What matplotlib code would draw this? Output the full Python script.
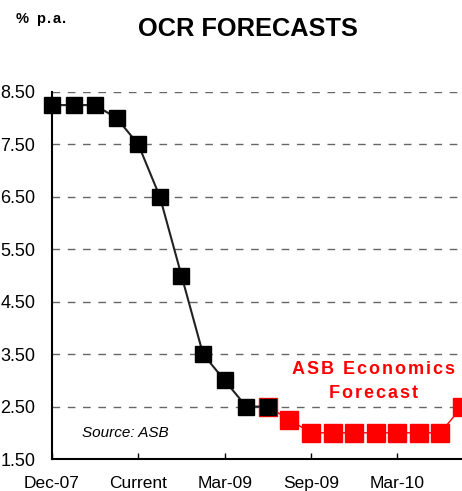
import matplotlib
matplotlib.use('Agg')
import matplotlib.pyplot as plt

plt.rcParams['font.family'] = ['Liberation Sans', 'DejaVu Sans']

# OCR history (black) and forecast path (red), one point per step
actual_x = [0, 1, 2, 3, 4, 5, 6, 7, 8, 9, 10]
actual_ocr = [8.25, 8.25, 8.25, 8.0, 7.5, 6.5, 5.0, 3.5, 3.0, 2.5, 2.5]
forecast_x = [10, 11, 12, 13, 14, 15, 16, 17, 18, 19]
forecast_ocr = [2.5, 2.25, 2.0, 2.0, 2.0, 2.0, 2.0, 2.0, 2.0, 2.5]

tick_pos = [0, 4, 8, 12, 16]
tick_labels = ['Dec-07', 'Current', 'Mar-09', 'Sep-09', 'Mar-10']
y_ticks = [1.5, 2.5, 3.5, 4.5, 5.5, 6.5, 7.5, 8.5]


def spaced_text(x, y, s, spacing, **kw):
    # draw a string char by char with extra tracking between letters
    fig.canvas.draw()
    r = fig.canvas.get_renderer()
    parts = []
    total = 0
    for ch in s:
        t = fig.text(0, 0, ch, **kw)
        w = t.get_window_extent(renderer=r).width
        t.remove()
        parts.append((ch, w))
        total += w
    total += spacing * (len(s) - 1)
    px = x * fig.bbox.width - total / 2
    for ch, w in parts:
        fig.text(px / fig.bbox.width, y, ch, ha='left', **kw)
        px += w + spacing


fig = plt.figure(figsize=(4.62, 4.91), dpi=100)
ax = fig.add_axes([52 / 462, 32 / 491, 410 / 462, 367 / 491])

# dashed horizontal grid
for y in y_ticks[1:]:
    ax.axhline(y, color='#666666', linestyle=(0, (5.5, 5.5)), linewidth=1.0, zorder=1)

ax.plot(forecast_x, forecast_ocr, color='red', linewidth=1.0, marker='s',
        markersize=12.5, markerfacecolor='red', markeredgecolor='red',
        clip_on=False, zorder=3)
ax.plot(actual_x, actual_ocr, color='#222222', linewidth=1.5, marker='s',
        markersize=11, markerfacecolor='black', markeredgecolor='black',
        clip_on=False, zorder=4)

ax.set_xlim(0, 19)
ax.set_ylim(1.5, 8.5)
ax.set_yticks(y_ticks)
ax.set_yticklabels(['%.2f' % v for v in y_ticks])
ax.set_xticks(tick_pos)
ax.set_xticklabels(tick_labels)

for side in ['top', 'right']:
    ax.spines[side].set_visible(False)
ax.spines['left'].set_linewidth(1.5)
ax.spines['bottom'].set_linewidth(1.5)
ax.tick_params(axis='x', direction='in', length=4, width=1, pad=12, labelsize=12.5)
ax.tick_params(axis='y', length=0, pad=12, labelsize=13)

ax.text(3.4, 2.0, 'Source: ASB', style='italic', fontsize=11, ha='center', va='center')

fig.text(248 / 462, 1 - 29 / 491, 'OCR FORECASTS', fontweight='bold',
         fontsize=18.3, ha='center', va='center')

label_kw = dict(color='red', fontweight='bold', fontsize=13, va='center')
spaced_text(373 / 462, 1 - 369 / 491, 'ASB Economics', 2.0, **label_kw)
spaced_text(373 / 462, 1 - 393 / 491, 'Forecast', 2.0, **label_kw)
spaced_text(41 / 462, 1 - 19 / 491, '% p.a.', 1.5, fontweight='bold',
            fontsize=10.5, va='center')

fig.savefig('out.png', dpi=100)
